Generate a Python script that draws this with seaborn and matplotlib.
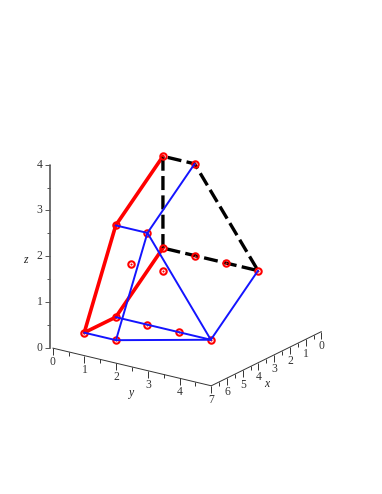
import numpy as np
import matplotlib
matplotlib.use('Agg')
import matplotlib.pyplot as plt
import seaborn as sns
from mpl_toolkits.mplot3d import proj3d

sns.set_theme(style='white')
plt.rcParams['font.family'] = ['Liberation Serif', 'DejaVu Serif']

# polytope data, integer points (x, y, z)
points = [(0, 0, 3), (0, 1, 3), (0, 0, 1), (0, 1, 1), (0, 2, 1), (0, 3, 1),
          (3, 0, 2), (3, 1, 2), (2, 0, 1), (2, 1, 1),
          (5, 0, 0), (5, 1, 0), (3, 0, 0), (3, 1, 0), (3, 2, 0), (3, 3, 0)]
red_path = [(0, 0, 3), (3, 0, 2), (5, 0, 0), (3, 0, 0), (0, 0, 1)]
black_path = [(0, 0, 1), (0, 0, 3), (0, 1, 3), (0, 3, 1), (0, 0, 1)]
blue_paths = [[(3, 0, 2), (3, 1, 2), (0, 1, 3)],
              [(3, 1, 2), (5, 1, 0), (5, 0, 0)],
              [(3, 1, 2), (3, 3, 0), (0, 3, 1)],
              [(5, 1, 0), (3, 3, 0)],
              [(3, 0, 0), (3, 3, 0)]]

x_ticks = [0, 1, 2, 3, 4, 5, 6, 7]
y_ticks = [0, 1, 2, 3, 4]
z_ticks = [0, 1, 2, 3, 4]
x_minor = [0.5, 1.5, 2.5, 3.5, 4.5, 5.5, 6.5]
y_minor = [0.5, 1.5, 2.5, 3.5, 4.5]
z_minor = [0.5, 1.5, 2.5, 3.5]

side = 325.8
fig = plt.figure(figsize=(3.82, 4.94), dpi=100)
ax = fig.add_axes([(182.7 - side / 2) / 382, (241.5 - side / 2) / 494, side / 382, side / 494],
                  projection='3d', proj_type='ortho')
ax.computed_zorder = False
ax.set_xlim(0, 7)
ax.set_ylim(0, 5)
ax.set_zlim(0, 4)
ax.view_init(elev=20, azim=34.8)
ax.set_box_aspect((1, 1, 1.012))
ax.set_axis_off()
ax.patch.set_alpha(0)


def path(ax, pts, **kw):
    a = np.array(pts)
    ax.plot(a[:, 0], a[:, 1], a[:, 2], **kw)


def ticks(ax, pts, size, marker, color):
    path(ax, pts, ls='none', marker=marker, ms=size, mew=0.7, color=color)


def label(ax, x, y, z, s, **kw):
    # plain 2d text at the projected spot
    u, v, _ = proj3d.proj_transform(x, y, z, ax.get_proj())
    ax.text2D(u, v, s, transform=ax.transData, ha='center', va='center', fontsize=8.4, **kw)


# frame: z axis sits a bit left of the corner
zx, zy = 7.05, -0.05
path(ax, [(zx, zy, 0), (zx, zy, 4)], color='#555555', lw=1.2)
path(ax, [(7, 0, 0), (7, 5, 0)], color='#333333', lw=0.7)
path(ax, [(7, 5, 0), (0, 5, 0)], color='#333333', lw=0.7)

ticks(ax, [(zx, zy, v) for v in z_ticks], 3.8, 0, '#555555')
ticks(ax, [(zx, zy, v) for v in z_minor], 2.2, 0, '#555555')
ticks(ax, [(7, v, 0) for v in y_ticks], 5, 3, '#333333')
ticks(ax, [(7, v, 0) for v in y_minor], 2.6, 3, '#333333')
ticks(ax, [(v, 5, 0) for v in x_ticks], 5, 3, '#333333')
ticks(ax, [(v, 5, 0) for v in x_minor], 2.6, 3, '#333333')

for v in z_ticks:
    label(ax, 7.27, -0.28, v, str(v), color='#333333')
for v in y_ticks:
    label(ax, 7, v, -0.31, str(v), color='#333333')
for v in x_ticks:
    label(ax, v, 5, -0.31, str(v), color='#333333')

label(ax, 7.558, -0.58, 1.93, 'z', style='italic', color='#222222')
label(ax, 7, 2.47, -0.564, 'y', style='italic', color='#222222')
label(ax, 3.48, 5, -0.557, 'x', style='italic', color='#222222')

path(ax, red_path, color='#ff0000', lw=2.6)
path(ax, black_path, color='black', lw=2.4, dashes=(4.2, 1.6))
# lattice points: red ring with a small dot
path(ax, points, ls='none', marker='o', ms=4.6, mfc='none', mec='#ff0000', mew=1.5)
path(ax, points, ls='none', marker='o', ms=1.5, mfc='#ff0000', mec='#ff0000', mew=0)
for p in blue_paths:
    path(ax, p, color='#1414ff', lw=1.4)

fig.savefig('out.png', dpi=100)
